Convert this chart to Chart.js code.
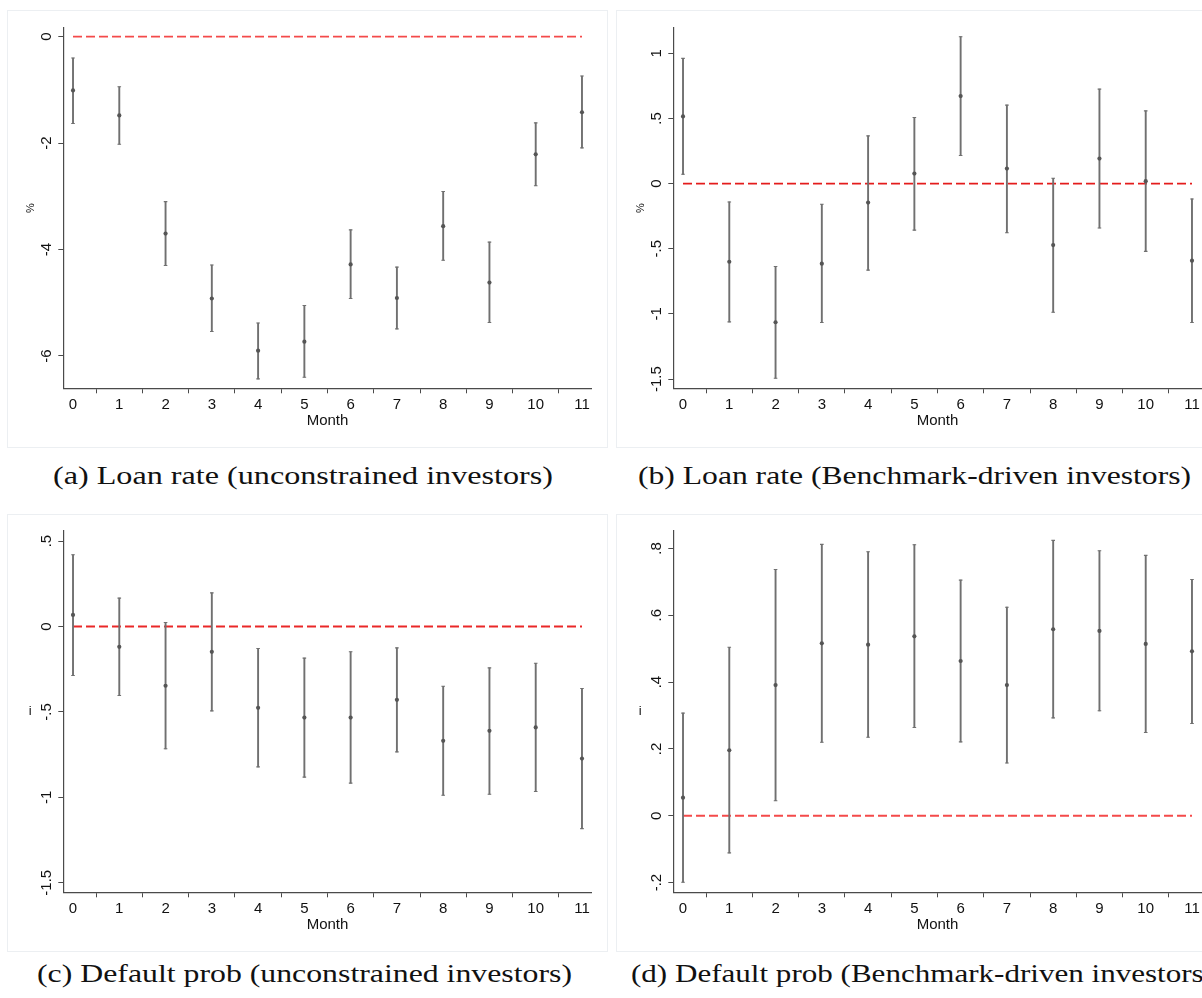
<!DOCTYPE html>
<html>
<head>
<meta charset="utf-8">
<title>Monthly effects on loan rate and default probability</title>
<script src="https://cdn.jsdelivr.net/npm/chart.js@4/dist/chart.umd.min.js"></script>
<style>
  html, body { margin: 0; padding: 0; background: #fff; width: 1202px; height: 998px; overflow: hidden; }
  .frame { position: absolute; box-sizing: border-box; border: 1px solid #eceff2; background: #fff; }
  canvas.panel { position: absolute; }
  .cap { position: absolute; white-space: nowrap; font-family: "Liberation Serif", "Times New Roman", serif;
         font-size: 25px; color: #111; transform-origin: 0 0; line-height: 1; }
</style>
</head>
<body>
<div class="frame" style="left:7px;top:10px;width:601px;height:438px"></div>
<div class="frame" style="left:616px;top:10px;width:601px;height:438px"></div>
<div class="frame" style="left:7px;top:514px;width:601px;height:438px"></div>
<div class="frame" style="left:616px;top:514px;width:601px;height:438px"></div>

<canvas class="panel" id="pa" width="600" height="437" style="left:7px;top:11px"></canvas>
<canvas class="panel" id="pb" width="600" height="437" style="left:617px;top:11px"></canvas>
<canvas class="panel" id="pc" width="600" height="437" style="left:7px;top:515px"></canvas>
<canvas class="panel" id="pd" width="600" height="437" style="left:617px;top:515px"></canvas>

<div class="cap" id="capa" style="top:463px">(a) Loan rate (unconstrained investors)</div>
<div class="cap" id="capb" style="top:463px">(b) Loan rate (Benchmark-driven investors)</div>
<div class="cap" id="capc" style="top:961px">(c) Default prob (unconstrained investors)</div>
<div class="cap" id="capd" style="top:961px">(d) Default prob (Benchmark-driven investors)</div>

<script>
// Months after the event
const months = [0, 1, 2, 3, 4, 5, 6, 7, 8, 9, 10, 11];
const monthLabels = ['0', '1', '2', '3', '4', '5', '6', '7', '8', '9', '10', '11'];

// (a) Loan rate, unconstrained investors: point estimate and 95% CI
const loanUncEst = [-1.01, -1.48, -3.70, -4.92, -5.90, -5.73, -4.28, -4.91, -3.56, -4.62, -2.21, -1.42];
const loanUncLo  = [-1.63, -2.02, -4.30, -5.54, -6.43, -6.40, -4.92, -5.49, -4.20, -5.37, -2.80, -2.09];
const loanUncHi  = [-0.40, -0.94, -3.10, -4.29, -5.38, -5.05, -3.63, -4.33, -2.91, -3.86, -1.62, -0.74];

// (b) Loan rate, benchmark-driven investors
const loanBenEst = [0.515, -0.600, -1.064, -0.615, -0.146, 0.077, 0.671, 0.115, -0.472, 0.192, 0.018, -0.592];
const loanBenLo  = [0.071, -1.061, -1.494, -1.066, -0.664, -0.357, 0.215, -0.377, -0.987, -0.341, -0.520, -1.066];
const loanBenHi  = [0.961, -0.141, -0.636, -0.159, 0.366, 0.507, 1.127, 0.602, 0.041, 0.725, 0.558, -0.118];

// (c) Default probability, unconstrained investors
const defUncEst = [0.068, -0.119, -0.347, -0.148, -0.476, -0.533, -0.533, -0.429, -0.669, -0.611, -0.591, -0.773];
const defUncLo  = [-0.287, -0.404, -0.716, -0.494, -0.822, -0.882, -0.917, -0.734, -0.988, -0.982, -0.966, -1.183];
const defUncHi  = [0.420, 0.166, 0.023, 0.197, -0.129, -0.185, -0.148, -0.125, -0.350, -0.242, -0.215, -0.363];

// (d) Default probability, benchmark-driven investors
const defBenEst = [0.054, 0.196, 0.391, 0.516, 0.512, 0.537, 0.463, 0.391, 0.558, 0.553, 0.514, 0.492];
const defBenLo  = [-0.199, -0.111, 0.045, 0.220, 0.235, 0.264, 0.221, 0.158, 0.293, 0.314, 0.249, 0.276];
const defBenHi  = [0.307, 0.504, 0.737, 0.812, 0.790, 0.811, 0.705, 0.624, 0.824, 0.793, 0.779, 0.707];

// Y-axis ticks (Stata-style labels without the leading zero)
const ticksA = [-6, -4, -2, 0];
const labelsA = ['-6', '-4', '-2', '0'];
const ticksB = [-1.5, -1, -0.5, 0, 0.5, 1];
const labelsB = ['-1.5', '-1', '-.5', '0', '.5', '1'];
const ticksC = [-1.5, -1, -0.5, 0, 0.5];
const labelsC = ['-1.5', '-1', '-.5', '0', '.5'];
const ticksD = [-0.2, 0, 0.2, 0.4, 0.6, 0.8];
const labelsD = ['-.2', '0', '.2', '.4', '.6', '.8'];

const AXIS = '#4a4a4a';
const BAR = '#707070';
const DOT = '#555555';
const TEXT = '#111111';
const SANS = '"Liberation Sans", Arial, Helvetica, sans-serif';

// Draws the Stata-like axis text: horizontal month labels, rotated y labels and titles
const axisText = {
  id: 'axisText',
  afterDraw(chart, args, o) {
    const { ctx, chartArea: a } = chart;
    const xs = chart.scales.x, ys = chart.scales.y;
    ctx.save();
    ctx.fillStyle = TEXT;
    ctx.font = '15px ' + SANS;
    ctx.textAlign = 'center';
    ctx.textBaseline = 'alphabetic';
    xs.ticks.forEach((t, i) => {
      ctx.fillText(monthLabels[i], xs.getPixelForValue(t.value), a.bottom + 21);
    });
    ys.ticks.forEach((t, i) => {
      ctx.save();
      ctx.translate(a.left - 12.5, ys.getPixelForValue(t.value));
      ctx.rotate(-Math.PI / 2);
      ctx.fillText(o.yLabels[i], 0, 0);
      ctx.restore();
    });
    ctx.fillText('Month', (a.left + a.right) / 2, a.bottom + 36.7);
    const midY = (a.top + a.bottom) / 2;
    if (o.rotateTitle) {
      ctx.font = '11px ' + SANS;
      ctx.save();
      ctx.translate(a.left - 29.3, midY);
      ctx.rotate(-Math.PI / 2);
      ctx.fillText(o.yTitle, 0, 0);
      ctx.restore();
    } else {
      ctx.font = '13px ' + SANS;
      ctx.textBaseline = 'middle';
      ctx.fillText(o.yTitle, a.left - 33, midY);
    }
    ctx.restore();
  }
};

function panel(id, est, lo, hi, yTicks, yLabels, yTitle, rotateTitle, yMin, yMax, refColor, top, bottom) {
  const ctx = document.getElementById(id);
  const H = 437, XH = 30, YW = 56.3;
  const caps = [];
  months.forEach((m, i) => { caps.push({ x: m, y: lo[i] }); caps.push({ x: m, y: hi[i] }); });
  return new Chart(ctx, {
    type: 'scatter',
    data: {
      datasets: [
        {
          type: 'line',
          data: [{ x: months[0], y: 0 }, { x: months[months.length - 1], y: 0 }],
          borderColor: refColor, borderWidth: 1.8, borderDash: [9, 4],
          pointRadius: 0, fill: false, order: 4
        },
        {
          type: 'bar',
          data: months.map((m, i) => ({ x: m, y: [lo[i], hi[i]] })),
          backgroundColor: BAR, borderWidth: 0, barThickness: 1.25, grouped: false, order: 3
        },
        {
          type: 'scatter',
          data: caps,
          pointStyle: 'line', pointRadius: 1.8, borderColor: BAR, borderWidth: 1.1, order: 2
        },
        {
          type: 'scatter',
          data: months.map((m, i) => ({ x: m, y: est[i] })),
          pointRadius: 2.1, backgroundColor: DOT, borderWidth: 0, order: 1
        }
      ]
    },
    options: {
      responsive: false,
      animation: false,
      events: [],
      layout: { padding: { left: 0, right: 600 - 584.7, top: top, bottom: H - bottom - XH } },
      plugins: {
        legend: { display: false },
        tooltip: { enabled: false },
        axisText: { yLabels: yLabels, yTitle: yTitle, rotateTitle: rotateTitle }
      },
      scales: {
        x: {
          type: 'linear', min: -0.21, max: 11.21, offset: false,
          afterBuildTicks: s => { s.ticks = months.map(v => ({ value: v })); },
          afterFit: s => { s.height = XH; },
          ticks: { display: false },
          grid: { drawOnChartArea: false, drawTicks: true, tickLength: 5, color: AXIS, lineWidth: 1 },
          border: { display: true, color: AXIS, width: 1.2 }
        },
        y: {
          type: 'linear', min: yMin, max: yMax,
          afterBuildTicks: s => { s.ticks = yTicks.map(v => ({ value: v })); },
          afterFit: s => { s.width = YW; },
          ticks: { display: false },
          grid: { drawOnChartArea: false, drawTicks: true, tickLength: 5, color: AXIS, lineWidth: 1 },
          border: { display: true, color: AXIS, width: 1.2 }
        }
      }
    },
    plugins: [axisText]
  });
}

panel('pa', loanUncEst, loanUncLo, loanUncHi, ticksA, labelsA, '%', true, -6.607, 0.169, '#f44a4a', 16.7, 377.3);
panel('pb', loanBenEst, loanBenLo, loanBenHi, ticksB, labelsB, '%', true, -1.571, 1.196, '#e41c1c', 16.7, 377.3);
panel('pc', defUncEst, defUncLo, defUncHi, ticksC, labelsC, 'i', false, -1.556, 0.559, '#ea2828', 16, 377.3);
panel('pd', defBenEst, defBenLo, defBenHi, ticksD, labelsD, 'i', false, -0.229, 0.852, '#f44a4a', 16, 377.3);

// Sub-figure captions: centred under each column, each squeezed to its book width
(function () {
  const m = document.createElement('canvas').getContext('2d');
  m.font = '25px "Liberation Serif", "Times New Roman", serif';
  const caps = [['capa', 303, 500], ['capb', 914, 553], ['capc', 304, 535], ['capd', 922, 583]];
  caps.forEach(([id, cx, target]) => {
    const el = document.getElementById(id);
    const w = m.measureText(el.textContent).width;
    el.style.left = (cx - target / 2).toFixed(1) + 'px';
    el.style.transform = 'scaleX(' + (target / w).toFixed(4) + ')';
  });
})();
</script>
</body>
</html>
